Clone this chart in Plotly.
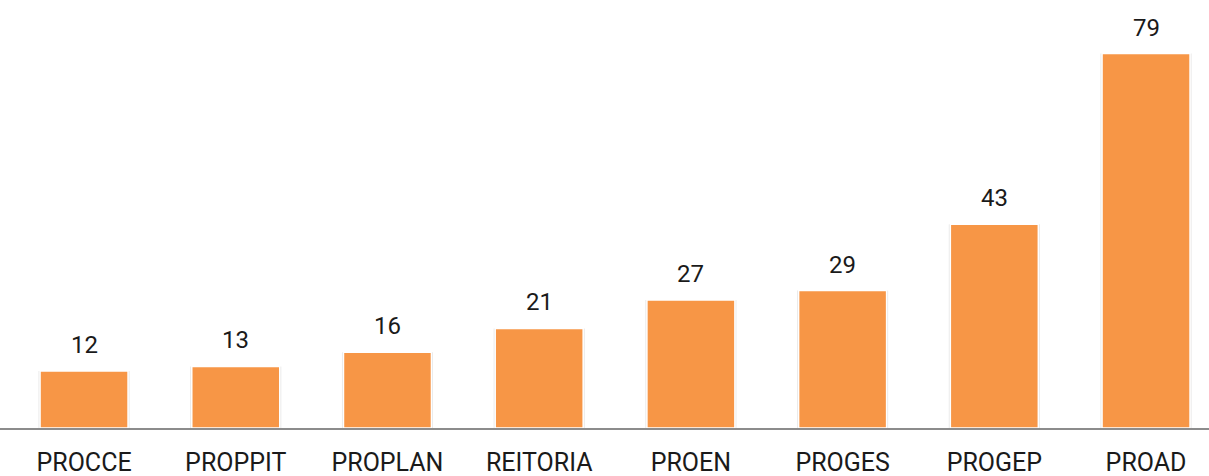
import plotly.graph_objects as go

categories = ["PROCCE", "PROPPIT", "PROPLAN", "REITORIA", "PROEN", "PROGES", "PROGEP", "PROAD"]
values = [12, 13, 16, 21, 27, 29, 43, 79]

bar_color = "#F79646"
font_family = "Roboto, 'Noto Sans', sans-serif"

fig = go.Figure()

# soft shadow behind the bars
fig.add_trace(go.Bar(
    x=categories, y=values, width=0.60,
    marker=dict(color="rgba(0,0,0,0.10)", line=dict(width=0)),
    hoverinfo="skip", showlegend=False,
))
fig.add_trace(go.Bar(
    x=categories, y=values, width=0.58,
    marker=dict(color=bar_color, line=dict(color="white", width=1.5)),
    showlegend=False,
))

for c, v in zip(categories, values):
    fig.add_annotation(
        x=c, y=v, text=str(v), showarrow=False,
        yanchor="bottom", yshift=10,
        font=dict(size=24, color="#1a1a1a", family=font_family),
    )

fig.update_layout(
    width=1209, height=476,
    margin=dict(l=0, r=0, t=0, b=48, autoexpand=False),
    plot_bgcolor="white", paper_bgcolor="white",
    barmode="overlay",
    font=dict(family=font_family, size=24, color="#1a1a1a"),
)
fig.update_xaxes(
    range=[-0.554, 7.415], automargin=False,
    showline=True, linecolor="#8c8c8c", linewidth=2,
    showgrid=False, ticks="", ticklabelstandoff=11,
    tickfont=dict(size=25, family=font_family, color="#1a1a1a"),
)
fig.update_yaxes(range=[0, 90.3], visible=False, showgrid=False, automargin=False)

# drop the default page margin so the figure sits at the window corner
fig.write_html("out.html", config={"displayModeBar": False},
               post_script="document.body.style.margin='0';")
